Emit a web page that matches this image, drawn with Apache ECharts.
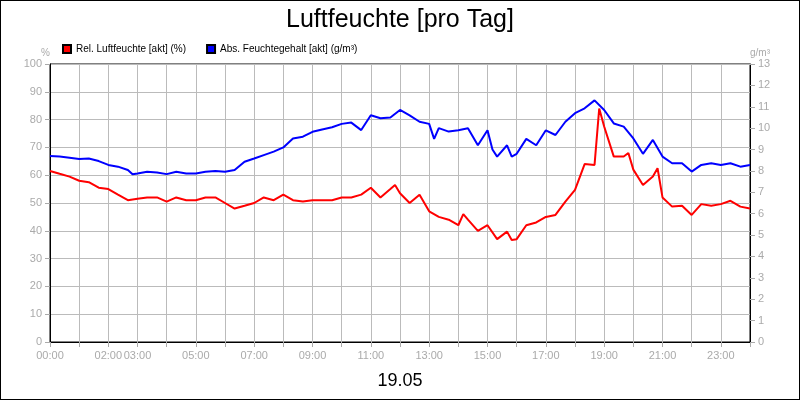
<!DOCTYPE html><html><head><meta charset="utf-8"><script src="https://cdn.jsdelivr.net/npm/echarts@6/dist/echarts.min.js"></script>
<style>body{margin:0}#c{width:798px;height:398px;border:1px solid #000;background:#fff}</style></head><body><div id="c"></div><script>
const tickLabels={0:'00:00',2:'02:00',3:'03:00',5:'05:00',7:'07:00',9:'09:00',11:'11:00',13:'13:00',15:'15:00',17:'17:00',19:'19:00',21:'21:00',23:'23:00'};
const relTimes=[0,0.33,0.67,1,1.33,1.67,2,2.33,2.67,3,3.33,3.67,4,4.33,4.67,5,5.33,5.67,6,6.33,6.67,7,7.33,7.67,8,8.33,8.67,9,9.33,9.67,10,10.33,10.67,11,11.33,11.67,11.83,12,12.33,12.67,13,13.33,13.67,14,14.17,14.33,14.67,15,15.33,15.67,15.83,16,16.33,16.67,17,17.33,17.67,18,18.33,18.67,18.83,19,19.33,19.67,19.83,20,20.33,20.67,20.83,21,21.33,21.67,22,22.33,22.67,23,23.33,23.67,24];
const relValues=[61.5,60.5,59.5,58,57.5,55.5,55,53,51,51.5,52,52,50.5,52,51,51,52,52,50,48,49,50,52,51,53,51,50.5,51,51,51,52,52,53,55.5,52,55,56.5,53.5,50,53,47,45,44,42,46,44,40,42,37,39.7,36.7,37,42,43,45,45.7,50.5,54.7,64,63.7,84,77.5,66.7,66.7,68,62,56.5,59.5,62.5,52,48.7,49,45.7,49.6,49,49.6,50.8,48.7,48];
const absTimes=[0,0.33,0.67,1,1.33,1.67,2,2.33,2.67,2.83,3,3.33,3.67,4,4.33,4.67,5,5.33,5.67,6,6.33,6.67,7,7.33,7.67,8,8.33,8.67,9,9.33,9.67,10,10.33,10.67,11,11.33,11.67,12,12.33,12.67,13,13.17,13.33,13.67,14,14.33,14.67,15,15.17,15.33,15.67,15.83,16,16.33,16.67,17,17.33,17.67,18,18.33,18.67,19,19.33,19.67,20,20.33,20.67,21,21.33,21.67,22,22.33,22.67,23,23.33,23.67,24];
const absValues=[8.7,8.67,8.62,8.56,8.58,8.46,8.28,8.2,8.04,7.84,7.88,7.96,7.93,7.85,7.96,7.88,7.88,7.96,8.0,7.96,8.04,8.43,8.58,8.74,8.9,9.1,9.52,9.6,9.83,9.94,10.04,10.2,10.26,9.91,10.6,10.46,10.5,10.85,10.6,10.3,10.2,9.5,10.0,9.84,9.9,10.0,9.2,9.9,9.0,8.67,9.2,8.67,8.8,9.5,9.2,9.9,9.68,10.3,10.7,10.93,11.3,10.85,10.22,10.07,9.52,8.8,9.45,8.67,8.36,8.36,7.97,8.28,8.36,8.28,8.36,8.2,8.28];
const gray='#aaa';
const ax={axisLine:{show:true,lineStyle:{color:'#000'}},axisTick:{show:true,lineStyle:{color:gray}},axisLabel:{color:gray,fontSize:11,fontFamily:'Arial, Liberation Sans'}};
const chart=echarts.init(document.getElementById('c'));
chart.setOption({
 animation:false,
 title:[{text:'Luftfeuchte [pro Tag]',left:'center',top:2,textStyle:{fontSize:25,fontWeight:'normal',color:'#000',fontFamily:'Arial, Liberation Sans'}},
        {text:'19.05',left:'center',top:366,textStyle:{fontSize:18,fontWeight:'normal',color:'#000',fontFamily:'Arial, Liberation Sans'}}],
 legend:{left:56,top:38,itemWidth:8,itemHeight:8,itemGap:20,icon:'rect',textStyle:{fontSize:10,color:'#000',fontFamily:'Arial, Liberation Sans'},data:['Rel. Luftfeuchte [akt] (%)','Abs. Feuchtegehalt [akt] (g/m³)']},
 grid:{left:49,right:49,top:63,bottom:57,show:true,borderColor:'#000',borderWidth:1},
 xAxis:{type:'value',min:0,max:24,interval:1,...ax,splitLine:{show:true,lineStyle:{color:'#bbb'}},axisLabel:{...ax.axisLabel,formatter:v=>tickLabels[v]||''}},
 yAxis:[{type:'value',min:0,max:100,interval:10,name:'%',nameGap:6,nameTextStyle:{color:gray,fontSize:10,align:'right'},...ax,splitLine:{show:true,lineStyle:{color:'#bbb'}}},
        {type:'value',min:0,max:13,interval:1,name:'g/m³',nameGap:6,nameTextStyle:{color:gray,fontSize:10,align:'left'},...ax,splitLine:{show:false}}],
 series:[
  {name:'Rel. Luftfeuchte [akt] (%)',type:'line',yAxisIndex:0,symbol:'none',lineStyle:{color:'#f00',width:2},itemStyle:{color:'#f00',borderColor:'#000',borderWidth:1},data:relTimes.map((t,i)=>[t,relValues[i]])},
  {name:'Abs. Feuchtegehalt [akt] (g/m³)',type:'line',yAxisIndex:1,symbol:'none',lineStyle:{color:'#00f',width:2},itemStyle:{color:'#00f',borderColor:'#000',borderWidth:1},data:absTimes.map((t,i)=>[t,absValues[i]])}
 ]
});
</script></body></html>
